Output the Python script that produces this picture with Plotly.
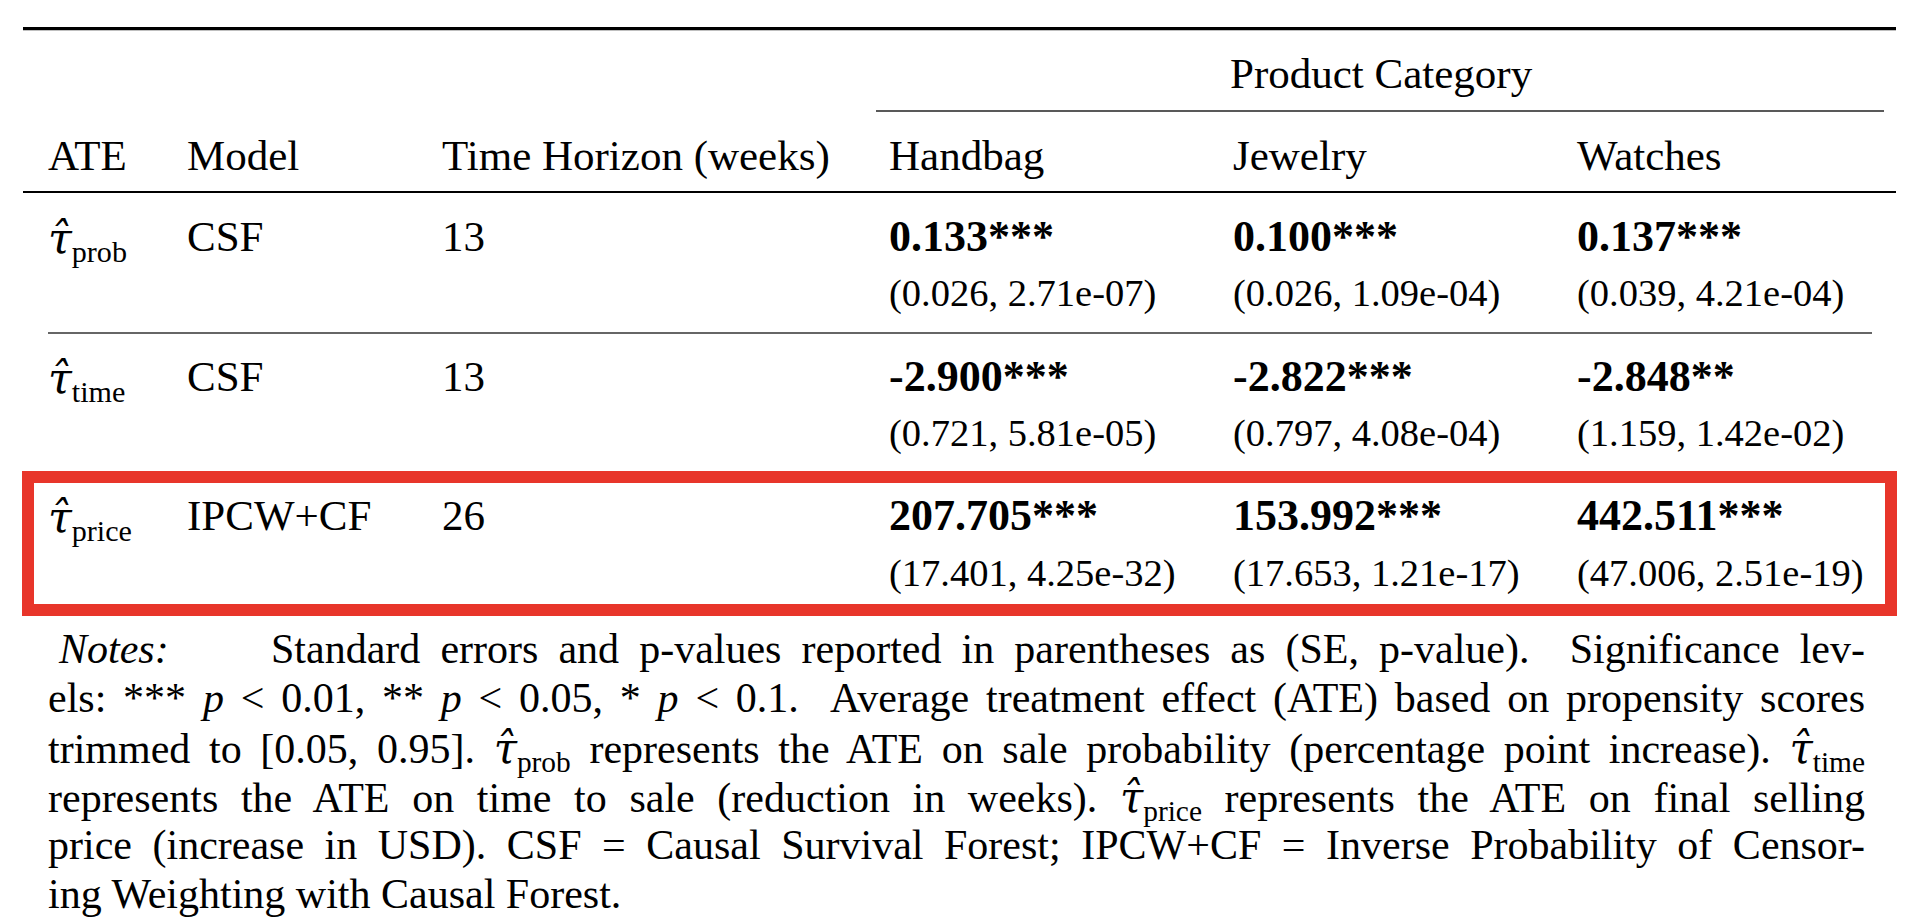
import plotly.graph_objects as go

# table content
ate_names = ['prob', 'time', 'price']
models = ['CSF', 'CSF', 'IPCW+CF']
horizons = [13, 13, 26]
categories = ['Handbag', 'Jewelry', 'Watches']

est = {
    'Handbag': [0.133, -2.900, 207.705],
    'Jewelry': [0.100, -2.822, 153.992],
    'Watches': [0.137, -2.848, 442.511],
}
stars = {
    'Handbag': ['***', '***', '***'],
    'Jewelry': ['***', '***', '***'],
    'Watches': ['***', '**', '***'],
}
se = {
    'Handbag': [0.026, 0.721, 17.401],
    'Jewelry': [0.026, 0.797, 17.653],
    'Watches': [0.039, 1.159, 47.006],
}
pval = {
    'Handbag': [2.71e-07, 5.81e-05, 4.25e-32],
    'Jewelry': [1.09e-04, 4.08e-04, 1.21e-17],
    'Watches': [4.21e-04, 1.42e-02, 2.51e-19],
}

TAU = '<span style="font-family:\'DejaVu Serif\'"><i>τ̂</i></span>'

notes_head = '<i>Notes:</i>'
notes = [
    'Standard errors and p-values reported in parentheses as (SE, p-value).  Significance lev-',
    'els: *** <i>p</i> < 0.01, ** <i>p</i> < 0.05, * <i>p</i> < 0.1.  Average treatment effect (ATE) based on propensity scores',
    f'trimmed to [0.05, 0.95]. {TAU}<sub>prob</sub> represents the ATE on sale probability (percentage point increase). {TAU}<sub>time</sub>',
    f'represents the ATE on time to sale (reduction in weeks). {TAU}<sub>price</sub> represents the ATE on final selling',
    'price (increase in USD). CSF = Causal Survival Forest; IPCW+CF = Inverse Probability of Censor-',
    'ing Weighting with Causal Forest.',
]

FONT = 'Liberation Serif'
FS = 43      # normal text
FS_B = 44    # bold estimates
FS_SE = 38.5 # (SE, p-value) lines
FS_NOTE = 42
W, H = 1908, 922
ASC = 0.891  # ascent of Liberation Serif, to place text by its baseline

col_x = [40, 179, 434, 881, 1225, 1569]
main_base = [243, 383, 522]
se_base = [298, 438, 578]
header_base = 162
note_base = [655, 704, 753, 802, 851, 900]
note_left, note_right = 40, 1857

fig = go.Figure()
ann = []


def txt(x, base, s, size=FS, anchor='left'):
    ann.append(dict(x=x, y=base - ASC * size, xref='x', yref='y', text=s, showarrow=False,
                    xanchor=anchor, yanchor='top', align=anchor, borderpad=0, borderwidth=0,
                    font=dict(family=FONT, size=size, color='black')))
    return len(ann) - 1


txt(1373, 80, 'Product Category', anchor='center')
for x, h in zip(col_x, ['ATE', 'Model', 'Time Horizon (weeks)'] + categories):
    txt(x, header_base, h)

for i in range(3):
    b = main_base[i]
    txt(col_x[0], b, f'{TAU}<sub>{ate_names[i]}</sub>')
    txt(col_x[1], b, models[i])
    txt(col_x[2], b, str(horizons[i]))
    for j, c in enumerate(categories):
        txt(col_x[3 + j], b, f'<b>{est[c][i]:.3f}{stars[c][i]}</b>', size=FS_B)
        txt(col_x[3 + j], se_base[i], f'({se[c][i]:.3f}, {pval[c][i]:.2e})', size=FS_SE)

# notes: justified lines (word spacing set in the page after drawing)
justify = {}
txt(50, note_base[0], notes_head, size=FS_NOTE)
starts = [263] + [note_left] * (len(notes) - 1)
for k, line in enumerate(notes):
    idx = txt(starts[k], note_base[k], line, size=FS_NOTE)
    if k < len(notes) - 1:
        justify[idx] = note_right - starts[k]

shapes = [
    dict(type='line', x0=15, x1=1888, y0=20.7, y1=20.7, line=dict(color='black', width=3.3)),
    dict(type='line', x0=868, x1=1876, y0=103, y1=103, line=dict(color='#222', width=1.3)),
    dict(type='line', x0=15, x1=1888, y0=184, y1=184, line=dict(color='black', width=2.2)),
    dict(type='line', x0=40, x1=1864, y0=325, y1=325, line=dict(color='#333', width=1.4)),
    dict(type='rect', x0=20, x1=1883, y0=469, y1=602, line=dict(color='#e8352a', width=12)),
]
for s in shapes:
    s.update(xref='x', yref='y')

fig.update_layout(
    width=W, height=H,
    margin=dict(l=0, r=0, t=0, b=0),
    paper_bgcolor='white', plot_bgcolor='white',
    xaxis=dict(range=[0, W], visible=False, fixedrange=True),
    yaxis=dict(range=[H, 0], visible=False, fixedrange=True),
    annotations=ann, shapes=shapes,
    showlegend=False,
)

spec = '{' + ','.join(f'"{k}":{v}' for k, v in justify.items()) + '}'
js = """
var gd = document.getElementById('{plot_id}');
var spec = SPEC;
function justifyNotes() {
  gd.querySelectorAll('g.annotation').forEach(function (g) {
    var i = g.getAttribute('data-index');
    if (!(i in spec)) return;
    var t = g.querySelector('text.annotation-text');
    if (!t) return;
    t.style.wordSpacing = '0px';
    var w = t.getBBox().width;
    var n = (t.textContent.match(/[ \\u00a0]/g) || []).length;
    if (n > 0) t.style.wordSpacing = ((spec[i] - w) / n) + 'px';
  });
}
justifyNotes();
gd.on('plotly_afterplot', justifyNotes);
""".replace('SPEC', spec)

fig.write_html('out.html', post_script=js)
